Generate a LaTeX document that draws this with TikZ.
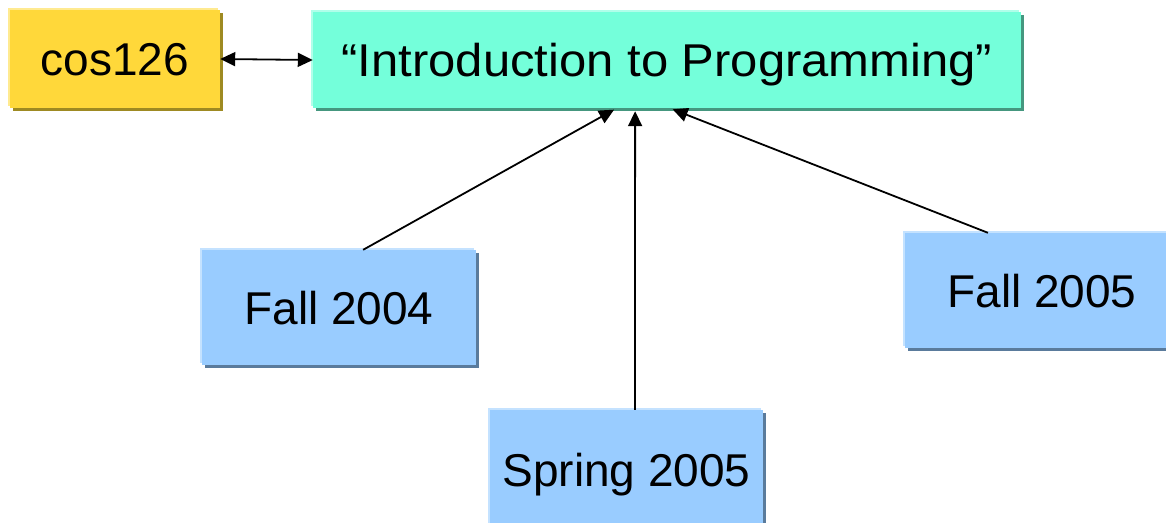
\documentclass[tikz,border=0pt]{standalone}
\usepackage{fontspec}
\setmainfont{Liberation Sans}
\newfontfamily\widesans[FakeStretch=1.065]{Liberation Sans}
\usetikzlibrary{arrows.meta,calc,shadows}

\definecolor{goldfill}{HTML}{FFD83A}
\definecolor{goldlight}{HTML}{FFEA90}
\definecolor{golddark}{HTML}{9E8A22}
\definecolor{tealfill}{HTML}{74FFDA}
\definecolor{teallight}{HTML}{B0FFEA}
\definecolor{tealdark}{HTML}{45977F}
\definecolor{bluefill}{HTML}{99CCFF}
\definecolor{bluelight}{HTML}{C4E2FF}
\definecolor{bluedark}{HTML}{5A7B9C}

\tikzset{
  panel/.style n args={3}{
    rectangle, inner sep=0pt, fill=#1,
    text height=33pt, text depth=0pt,
    font=\fontsize{46}{50}\selectfont,
    copy shadow={shadow xshift=-2.5pt, shadow yshift=2.5pt, fill=#2, draw=none},
    copy shadow={shadow xshift=2.5pt, shadow yshift=-2.5pt, fill=#3, draw=none}
  },
  goldbox/.style={panel={goldfill}{goldlight}{golddark}},
  tealbox/.style={panel={tealfill}{teallight}{tealdark}},
  bluebox/.style={panel={bluefill}{bluelight}{bluedark}},
  link/.style={line width=1.8pt, -{Triangle[length=15pt,width=14pt]}, shorten >=3pt},
  bilink/.style={line width=1.8pt, {Triangle[length=15pt,width=14pt]}-{Triangle[length=15pt,width=14pt]}}
}

\begin{document}
\begin{tikzpicture}[x=1pt,y=-1pt]
  \useasboundingbox (0,0) rectangle (1166,522);
  \clip (0,0) rectangle (1166,522);

  \node[goldbox, minimum width=210pt, minimum height=98pt] (cos) at (115,59) {cos126};
  \node[tealbox, minimum width=708pt, minimum height=96pt] (intro) at (667,60)
    {\widesans “Introduction to Programming”};
  \node[bluebox, minimum width=274pt, minimum height=115pt] (f04) at (339,307.5) {Fall 2004};
  \node[bluebox, minimum width=273pt, minimum height=120pt] (s05) at (626.5,470) {Spring 2005};
  \node[bluebox, minimum width=274pt, minimum height=115pt] (f05) at (1042,290.5) {Fall 2005};

  \draw[bilink] (cos.east) -- (intro.west);
  \draw[link] ($(f04.north west)!0.588!(f04.north east)$) -- ($(intro.south west)!0.429!(intro.south east)$);
  \draw[link] ($(s05.north west)!0.531!(s05.north east)$) -- ($(intro.south west)!0.455!(intro.south east)$);
  \draw[link] ($(f05.north west)!0.303!(f05.north east)$) -- ($(intro.south west)!0.504!(intro.south east)$);
\end{tikzpicture}
\end{document}
